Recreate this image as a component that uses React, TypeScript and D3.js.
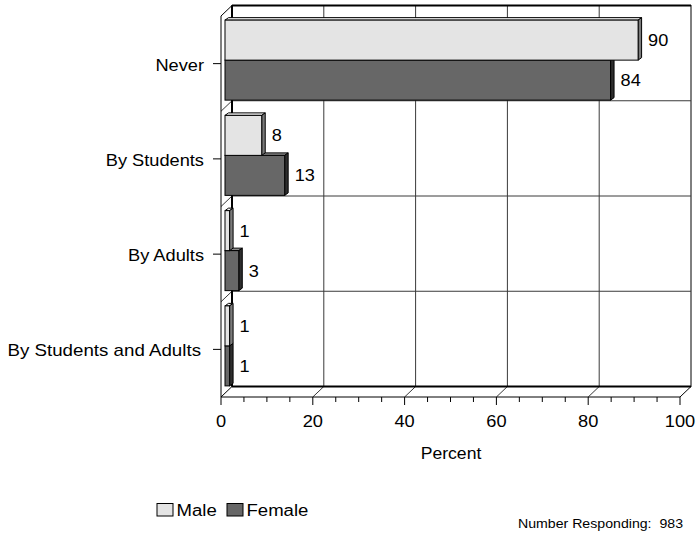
import React from "react";
import * as d3 from "d3";

const categories = ["Never", "By Students", "By Adults", "By Students and Adults"];
const seriesNames = ["Male", "Female"];
const maleValues = [90, 8, 1, 1];
const femaleValues = [84, 13, 3, 1];
const xTickValues = [0, 20, 40, 60, 80, 100];
const respondents = 983;

const W = 696;
const H = 533;
const FONT = "'Liberation Sans', Arial, Helvetica, sans-serif";

// 3D geometry
const DX = 11; // depth offset to back wall
const DY = -10.5;
const BAR_OFF_X = 4; // bar front face depth
const BAR_OFF_Y = -3.5;
const BAR_DX = 3.5; // bar thickness
const BAR_DY = -2.5;

const fills: Record<string, { front: string; top: string; side: string }> = {
  Male: { front: "#e4e4e4", top: "#f2f2f2", side: "#7a7a7a" },
  Female: { front: "#676767", top: "#8c8c8c", side: "#2e2e2e" },
};

function T({ x, y, anchor = "start", size = 16, sx = 1.13, children }: any) {
  return (
    <text
      transform={`translate(${x},${y}) scale(${sx},1)`}
      textAnchor={anchor}
      fontSize={size}
      fontFamily={FONT}
      fill="#000"
    >
      {children}
    </text>
  );
}

export default function App() {
  const x = d3.scaleLinear().domain([0, 100]).range([221, 680]);
  const y = d3.scaleBand<string>().domain(categories).range([16, 397]).paddingInner(0).paddingOuter(0);
  const bandW = y.bandwidth();
  const groupH = 80;

  const xBack = (v: number) => x(v) + DX;
  const yTopFront = y.range()[0];
  const yBotFront = y.range()[1];

  const minorTicks = x.ticks(20);
  const data = seriesNames.map((s, si) => ({
    name: s,
    values: si === 0 ? maleValues : femaleValues,
  }));

  const bars: any[] = [];
  for (let ci = categories.length - 1; ci >= 0; ci--) {
    const c = categories[ci];
    const center = (y(c) as number) + bandW / 2 + BAR_OFF_Y;
    const inner = d3
      .scaleBand<string>()
      .domain(seriesNames)
      .range([center - groupH / 2, center + groupH / 2]);
    for (let si = data.length - 1; si >= 0; si--) {
      const s = data[si];
      const v = s.values[ci];
      const x0 = x(0) + BAR_OFF_X;
      const x1 = x(v) + BAR_OFF_X;
      const y0 = inner(s.name) as number;
      const y1 = y0 + inner.bandwidth();
      const f = fills[s.name];
      bars.push(
        <g key={c + s.name}>
          <polygon
            points={`${x0},${y0} ${x0 + BAR_DX},${y0 + BAR_DY} ${x1 + BAR_DX},${y0 + BAR_DY} ${x1},${y0}`}
            fill={f.top}
            stroke="#000"
            strokeWidth={1}
            strokeLinejoin="round"
          />
          <polygon
            points={`${x1},${y0} ${x1 + BAR_DX},${y0 + BAR_DY} ${x1 + BAR_DX},${y1 + BAR_DY} ${x1},${y1}`}
            fill={f.side}
            stroke="#000"
            strokeWidth={1}
            strokeLinejoin="round"
          />
          <rect x={x0} y={y0} width={x1 - x0} height={y1 - y0} fill={f.front} stroke="#000" strokeWidth={1} />
          <T x={x1 + 10} y={(y0 + y1) / 2 + 6} size={16.5} sx={1.1}>
            {v}
          </T>
        </g>
      );
    }
  }

  const boundaries = categories.map((c) => y(c) as number).concat([yBotFront]);

  return (
    <svg
      width={W}
      height={H}
      style={{ position: "absolute", left: 0, top: 0, background: "#fff" }}
    >
      <rect x={0} y={0} width={W} height={H} fill="#fff" />
      {/* back wall */}
      <rect
        x={xBack(0)}
        y={yTopFront + DY}
        width={xBack(100) - xBack(0)}
        height={yBotFront - yTopFront}
        fill="#fff"
        stroke="#000"
        strokeWidth={1}
      />
      {xTickValues.slice(1, -1).map((t) => (
        <g key={"vg" + t}>
          <line x1={xBack(t)} x2={xBack(t)} y1={yTopFront + DY} y2={yBotFront + DY} stroke="#3a3a3a" strokeWidth={1} />
          <line x1={xBack(t)} x2={x(t)} y1={yBotFront + DY} y2={yBotFront} stroke="#3a3a3a" strokeWidth={1} />
        </g>
      ))}
      {boundaries.slice(1, -1).map((b, i) => (
        <g key={"hg" + i}>
          <line x1={xBack(0)} x2={xBack(100)} y1={b + DY} y2={b + DY} stroke="#3a3a3a" strokeWidth={1} />
          <line x1={xBack(0)} x2={x(0)} y1={b + DY} y2={b} stroke="#3a3a3a" strokeWidth={1} />
        </g>
      ))}
      <line x1={xBack(0)} x2={xBack(100)} y1={yTopFront + DY} y2={yTopFront + DY} stroke="#000" strokeWidth={2} />
      <line x1={xBack(0)} x2={xBack(0)} y1={yTopFront + DY} y2={yBotFront + DY} stroke="#000" strokeWidth={2} />
      <line x1={xBack(0)} x2={xBack(100)} y1={yBotFront + DY} y2={yBotFront + DY} stroke="#000" strokeWidth={2} />
      <line x1={x(0)} x2={x(0)} y1={yTopFront} y2={yBotFront} stroke="#000" strokeWidth={1} />
      <line x1={xBack(0)} x2={x(0)} y1={yTopFront + DY} y2={yTopFront} stroke="#000" strokeWidth={1} />
      <line x1={xBack(0)} x2={x(0)} y1={yBotFront + DY} y2={yBotFront} stroke="#000" strokeWidth={1} />
      <line x1={xBack(100)} x2={x(100)} y1={yBotFront + DY} y2={yBotFront} stroke="#000" strokeWidth={1} />
      <line x1={x(0)} x2={x(100)} y1={yBotFront} y2={yBotFront} stroke="#000" strokeWidth={1} />

      {categories.map((c, i) => {
        const cy = (y(c) as number) + bandW / 2;
        const last = i === categories.length - 1;
        return (
          <g key={"cat" + c}>
            <line x1={x(0) - 8} x2={x(0)} y1={cy} y2={cy} stroke="#000" strokeWidth={1} />
            <T x={last ? 201 : 204} y={cy + 7} anchor="end" sx={last ? 1.17 : 1.14}>
              {c}
            </T>
          </g>
        );
      })}

      {minorTicks.map((t) => (
        <line
          key={"mt" + t}
          x1={x(t)}
          x2={x(t)}
          y1={yBotFront}
          y2={yBotFront + (t % 20 === 0 ? 8 : 5)}
          stroke="#000"
          strokeWidth={1}
        />
      ))}
      {xTickValues.map((t) => (
        <T key={"xl" + t} x={x(t)} y={427} anchor="middle" size={16} sx={1.14}>
          {t}
        </T>
      ))}
      <T x={451} y={459} anchor="middle" size={16} sx={1.1}>
        Percent
      </T>

      {bars}

      {seriesNames.map((s, i) => {
        const lx = [157, 227][i];
        return (
          <g key={"lg" + s}>
            <rect x={lx} y={503.5} width={16} height={12.5} fill={fills[s].front} stroke="#000" strokeWidth={1} />
            <T x={lx + 19.5} y={516} size={16} sx={1.16}>
              {s}
            </T>
          </g>
        );
      })}

      <T x={683} y={528} anchor="end" size={12.3} sx={1.15}>
        {`Number Responding:\u00a0\u00a0${respondents}`}
      </T>
    </svg>
  );
}
